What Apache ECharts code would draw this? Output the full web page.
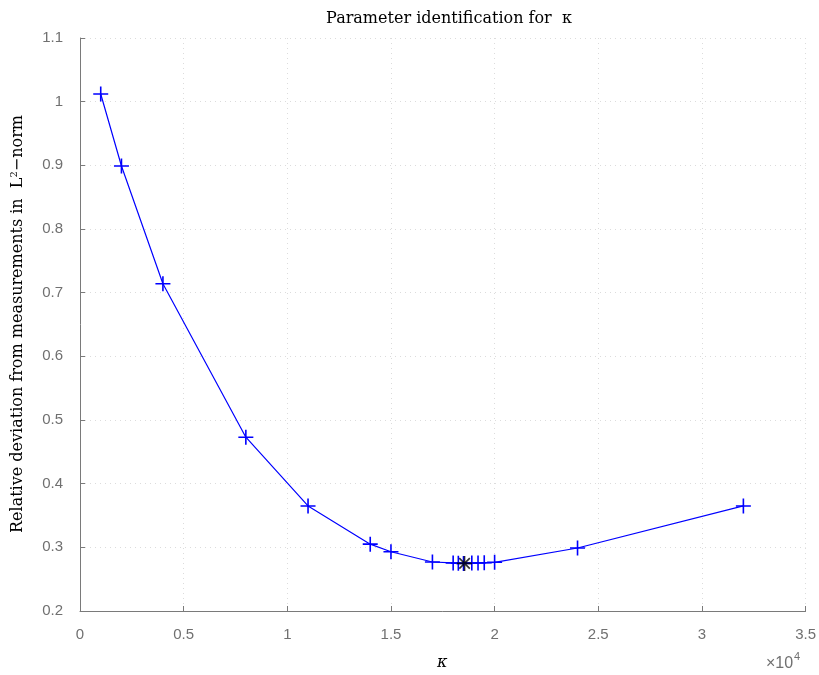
<!DOCTYPE html>
<html>
<head>
<meta charset="utf-8">
<script src="https://cdn.jsdelivr.net/npm/echarts@6/dist/echarts.min.js"></script>
<style>
html, body { margin: 0; padding: 0; background: #fff; }
#chart { width: 819px; height: 675px; }
</style>
</head>
<body>
<div id="chart"></div>
<script>
// kappa values and relative deviation
var kappa = [1000, 2000, 4000, 8000, 11000, 14000, 15000, 17000, 18000, 18250, 18500, 18900, 19200, 19500, 20000, 24000, 32000];
var deviation = [1.012, 0.899, 0.714, 0.473, 0.365, 0.305, 0.293, 0.277, 0.2755, 0.275, 0.2748, 0.2752, 0.2755, 0.2757, 0.2765, 0.299, 0.365];
// optimum
var bestKappa = [18550];
var bestDeviation = [0.2748];

var xTicks = [0, 5000, 10000, 15000, 20000, 25000, 30000, 35000];
var yTicks = [0.2, 0.3, 0.4, 0.5, 0.6, 0.7, 0.8, 0.9, 1.0, 1.1];

var chart = echarts.init(document.getElementById('chart'));

var mainData = kappa.map(function (k, i) { return [k, deviation[i]]; });
var bestData = bestKappa.map(function (k, i) { return [k, bestDeviation[i]]; });

var labelStyle = { color: '#707070', fontFamily: 'Liberation Sans', fontSize: 15 };

var option = {
    animation: false,
    title: {
        text: 'Parameter identification for  \u03ba',
        left: 444,
        textAlign: 'center',
        top: 6,
        textStyle: { fontFamily: 'DejaVu Serif', fontWeight: 'normal', fontSize: 16, color: '#000' }
    },
    grid: { left: 80, right: 11, top: 38, bottom: 64, containLabel: false },
    xAxis: {
        type: 'value',
        min: xTicks[0],
        max: xTicks[xTicks.length - 1],
        interval: 5000,
        axisLine: { lineStyle: { color: '#7a7a7a', width: 1 } },
        axisTick: { inside: true, length: 5, lineStyle: { color: '#7a7a7a' } },
        axisLabel: Object.assign({ margin: 16, formatter: function (v) { return +(v / 10000).toFixed(1); } }, labelStyle),
        splitLine: { show: true, lineStyle: { color: '#dcdcdc', type: [1, 4] } }
    },
    yAxis: {
        type: 'value',
        min: yTicks[0],
        max: yTicks[yTicks.length - 1],
        interval: 0.1,
        axisLine: { show: true, lineStyle: { color: '#7a7a7a', width: 1 } },
        axisTick: { show: true, inside: true, length: 5, lineStyle: { color: '#7a7a7a' } },
        axisLabel: Object.assign({ margin: 17, formatter: function (v) { return +v.toFixed(1); } }, labelStyle),
        splitLine: { show: true, lineStyle: { color: '#dcdcdc', type: [1, 4] } }
    },
    graphic: [
        {
            type: 'text',
            left: 437, top: 655,
            style: { text: '\u03ba', fontFamily: 'DejaVu Serif', fontStyle: 'italic', fontSize: 16, fill: '#000' }
        },
        {
            type: 'text',
            left: 766, top: 656,
            style: { text: '\u00d710', fontFamily: 'Liberation Sans', fontSize: 16, fill: '#707070' }
        },
        {
            type: 'text',
            left: 794, top: 651,
            style: { text: '4', fontFamily: 'Liberation Sans', fontSize: 11, fill: '#707070' }
        },
        {
            type: 'text',
            rotation: Math.PI / 2,
            x: 9, y: 324,
            style: {
                text: 'Relative deviation from measurements in  {n|L}{s|2}{n|\u2212norm}',
                fontFamily: 'DejaVu Serif',
                fontSize: 16,
                fill: '#000',
                align: 'center',
                verticalAlign: 'top',
                rich: {
                    n: { fontFamily: 'DejaVu Serif', fontSize: 16, color: '#000' },
                    s: { fontFamily: 'DejaVu Serif', fontSize: 10, color: '#000', padding: [0, 0, 8, 0] }
                }
            }
        }
    ],
    series: [
        {
            type: 'line',
            data: mainData,
            symbol: 'path://M0,5L10,5M5,0L5,10',
            symbolSize: 15,
            lineStyle: { color: '#0000ff', width: 1.2 },
            itemStyle: { color: 'rgba(0,0,0,0)', borderColor: '#0000ff', borderWidth: 1.6 },
            z: 2
        },
        {
            type: 'scatter',
            data: bestData,
            symbol: 'path://M0,5L10,5M5,0L5,10M1.5,1.5L8.5,8.5M1.5,8.5L8.5,1.5',
            symbolSize: 15,
            itemStyle: { color: 'rgba(0,0,0,0)', borderColor: '#000', borderWidth: 1.6 },
            z: 3
        }
    ]
};

chart.setOption(option);
</script>
</body>
</html>
